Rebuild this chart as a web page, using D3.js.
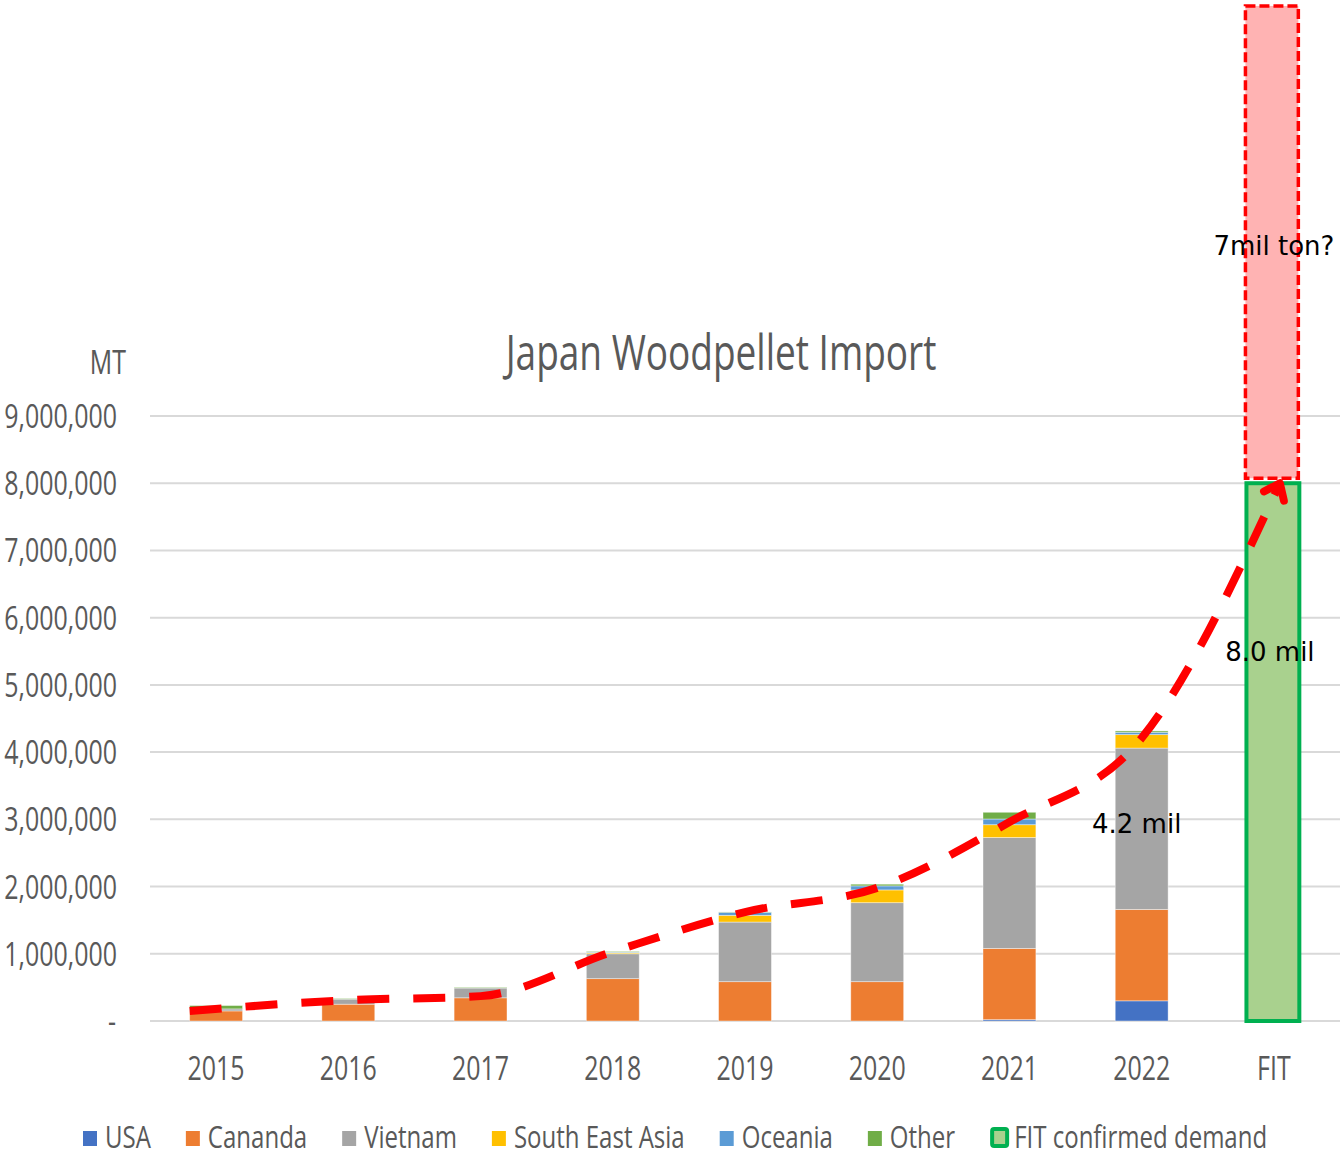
<!DOCTYPE html>
<html>
<head>
<meta charset="utf-8">
<script src="https://cdn.jsdelivr.net/npm/d3@7"></script>
<style>
  body { margin: 0; background: #fff; }
  .lbl { font-family: "Open Sans", sans-serif; fill: #595959; }
  .note { font-family: "DejaVu Sans", sans-serif; fill: #000; font-size: 26px; }
</style>
</head>
<body>
<svg width="1342" height="1156"></svg>
<script>
// categories and series (metric tons)
var years = ["2015", "2016", "2017", "2018", "2019", "2020", "2021", "2022", "FIT"];
var seriesNames = ["USA", "Cananda", "Vietnam", "South East Asia", "Oceania", "Other"];
var usa     = [0, 0, 0, 0, 0, 0, 20000, 300000];
var canada  = [150000, 250000, 345000, 630000, 585000, 585000, 1060000, 1360000];
var vietnam = [30000, 75000, 145000, 370000, 887000, 1175000, 1650000, 2400000];
var sea     = [0, 0, 0, 15000, 100000, 190000, 190000, 200000];
var oceania = [0, 0, 0, 10000, 45000, 60000, 85000, 35000];
var other   = [50000, 10000, 10000, 10000, 5000, 25000, 100000, 20000];
var fitConfirmed = 8000000;
var fitPotential = 7100000;
var trend = [150000, 310000, 370000, 1030000, 1620000, 1980000, 2960000, 4210000, 8000000];
var yTicks = [0, 1000000, 2000000, 3000000, 4000000, 5000000, 6000000, 7000000, 8000000, 9000000];
var notes = [
  { text: "4.2 mil", cat: "2022", value: 2950000, dx: -5 },
  { text: "8.0 mil", cat: "FIT", value: 5500000, dx: -4 },
  { text: "7mil ton?", cat: "FIT", value: 11550000, dx: 0 }
];
var colors = ["#4472C4", "#ED7D31", "#A5A5A5", "#FFC000", "#5B9BD5", "#70AD47"];

var svg = d3.select("svg");
var SX = 0.78; // horizontal squeeze for the narrow label font

function label(parent, px, py, anchor, size, str, sx) {
  return parent.append("text").attr("class", "lbl")
    .attr("transform", "translate(" + px + "," + py + ") scale(" + (sx || SX) + ",1)")
    .attr("text-anchor", anchor)
    .style("font-size", size + "px")
    .text(str);
}

var x = d3.scaleBand().domain(years).range([150, 1340]).paddingInner(0.6).paddingOuter(0.3);
var y = d3.scaleLinear().domain([0, 9000000]).range([1021, 416]);

// gridlines
svg.append("g").selectAll("line")
  .data(yTicks)
  .enter().append("line")
  .attr("x1", 150).attr("x2", 1340)
  .attr("y1", d => y(d)).attr("y2", d => y(d))
  .attr("stroke", "#D9D9D9").attr("stroke-width", 2);

// y labels
var fmt = d3.format(",");
var gy = svg.append("g");
yTicks.forEach(function(d) {
  label(gy, d === 0 ? 116 : 117, y(d) + 12, "end", 32, d === 0 ? "-" : fmt(d));
});

label(svg, 126, 374, "end", 32, "MT");
label(svg, 721, 370, "middle", 49, "Japan Woodpellet Import", 0.755);

// stacked bars
var rows = years.slice(0, 8).map(function(yr, i) {
  return { year: yr, s0: usa[i], s1: canada[i], s2: vietnam[i], s3: sea[i], s4: oceania[i], s5: other[i] };
});
var stack = d3.stack().keys(["s0", "s1", "s2", "s3", "s4", "s5"]);
var layers = stack(rows);

svg.append("g").selectAll("g")
  .data(layers)
  .enter().append("g")
  .attr("fill", (d, i) => colors[i])
  .selectAll("rect")
  .data(d => d)
  .enter().append("rect")
  .attr("x", d => x(d.data.year))
  .attr("width", x.bandwidth())
  .attr("y", d => y(d[1]))
  .attr("height", d => y(d[0]) - y(d[1]))
  .attr("stroke", "#fff").attr("stroke-opacity", 0.5).attr("stroke-width", 0.8);

// FIT confirmed demand
svg.append("rect")
  .attr("x", x("FIT") - 1)
  .attr("width", x.bandwidth())
  .attr("y", y(fitConfirmed))
  .attr("height", y(0) - y(fitConfirmed))
  .attr("fill", "#A9D18E").attr("stroke", "#00B050").attr("stroke-width", 4);

// potential demand box
svg.append("rect")
  .attr("x", x("FIT") - 2)
  .attr("width", x.bandwidth())
  .attr("y", y(fitConfirmed + fitPotential))
  .attr("height", y(fitConfirmed) - y(fitConfirmed + fitPotential) - 5)
  .attr("fill", "#FFB3B3").attr("stroke", "#FF0000").attr("stroke-width", 3.5)
  .attr("stroke-dasharray", "10,4");

// trend arrow
svg.append("defs").append("marker")
  .attr("id", "arrow")
  .attr("viewBox", "-14 -14 28 28")
  .attr("markerUnits", "userSpaceOnUse")
  .attr("markerWidth", 44).attr("markerHeight", 44)
  .attr("orient", "auto")
  .append("path")
  .attr("d", "M-9,-7 L0,0 L-9,7")
  .attr("fill", "none").attr("stroke", "#FF0000").attr("stroke-width", 5)
  .attr("stroke-linecap", "round").attr("stroke-linejoin", "round");

var line = d3.line()
  .x((d, i) => i === 0 ? x(years[i]) : x(years[i]) + x.bandwidth() / 2 + (i === years.length - 1 ? 6 : 0))
  .y(d => y(d))
  .curve(d3.curveMonotoneX);

svg.append("path")
  .datum(trend)
  .attr("d", line)
  .attr("fill", "none").attr("stroke", "#FF0000").attr("stroke-width", 8)
  .attr("stroke-dasharray", "32,24")
  .attr("marker-end", "url(#arrow)");

// annotations
svg.append("g").selectAll("text")
  .data(notes)
  .enter().append("text")
  .attr("class", "note")
  .attr("x", d => x(d.cat) + x.bandwidth() / 2 + d.dx)
  .attr("y", d => y(d.value) + 10)
  .attr("text-anchor", "middle")
  .text(d => d.text);

// x labels
var gx = svg.append("g");
years.forEach(function(d) {
  label(gx, x(d) + x.bandwidth() / 2, 1080, "middle", 32, d);
});

// legend
var legendItems = seriesNames.concat(["FIT confirmed demand"]);
var lx = 83;
legendItems.forEach(function(name, i) {
  var g = svg.append("g");
  if (i < 6) {
    g.append("rect").attr("x", lx).attr("y", 1131).attr("width", 14).attr("height", 15).attr("fill", colors[i]);
  } else {
    g.append("rect").attr("x", lx + 2).attr("y", 1129).attr("width", 15).attr("height", 17).attr("rx", 2)
      .attr("fill", "#A9D18E").attr("stroke", "#00B050").attr("stroke-width", 4);
  }
  var off = i < 6 ? 22 : 24;
  var t = label(g, lx + off, 1148, "start", 31, name, 0.775);
  lx += off + t.node().getComputedTextLength() * 0.775 + 35;
});
</script>
</body>
</html>
